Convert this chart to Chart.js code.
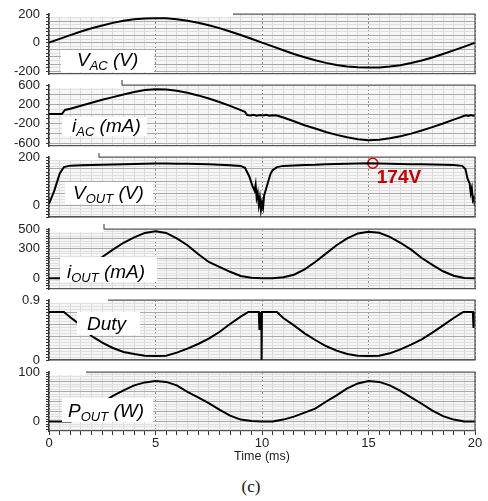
<!DOCTYPE html>
<html>
<head>
<meta charset="utf-8">
<script src="https://cdn.jsdelivr.net/npm/chart.js"></script>
<style>
  body { margin: 0; background: #fff; }
  #wrap { position: relative; width: 488px; height: 501px; overflow: hidden; }
  #wrap canvas { position: absolute; left: 0; }
  #caption { position: absolute; left: 151px; width: 200px; top: 477px; text-align: center;
             font: 17px "Liberation Serif", "Times New Roman", serif; color: #111; }
</style>
</head>
<body>
<div id="wrap"><div id="caption">(c)</div></div>
<script>
// time base (ms)
const timeMs = [0, 0.5, 1, 1.5, 2, 2.5, 3, 3.5, 4, 4.5, 5, 5.5, 6, 6.5, 7, 7.5, 8, 8.5, 9, 9.5,
  10, 10.5, 11, 11.5, 12, 12.5, 13, 13.5, 14, 14.5, 15, 15.5, 16, 16.5, 17, 17.5, 18, 18.5, 19, 19.5, 20];

// input voltage (V)
const vacValues = [0, 26, 52, 77, 100, 120, 138, 152, 163, 169, 171, 170, 164, 153, 139, 121, 101, 78, 53, 27,
  0, -27, -54, -80, -103, -124, -142, -157, -167, -173, -175, -174, -168, -158, -143, -125, -104, -80, -55, -28, 0];

// input current (mA)
const iacTime = [0, 0.5, 0.6, 0.75, 1, 1.5, 2, 2.5, 3, 3.5, 4, 4.5, 5, 5.5, 6, 6.5, 7, 7.5, 8, 8.5, 9,
  9.2, 9.3, 9.45, 9.6, 9.75, 9.9, 10.05, 10.2, 10.35, 10.5, 10.7, 11, 11.5, 12, 12.5, 13, 13.5, 14, 14.5,
  15, 15.5, 16, 16.5, 17, 17.5, 18, 18.5, 19, 19.3, 19.5, 19.6, 19.7, 19.8, 19.9, 20];
const iacValues = [0, 0, 0, 85, 110, 170, 235, 295, 350, 405, 455, 495, 510, 505, 480, 440, 385, 320, 250, 170, 80,
  45, -20, -30, -15, -35, -20, -30, -15, -35, -25, -30, -70, -150, -230, -300, -370, -430, -480, -520,
  -540, -530, -500, -460, -405, -340, -270, -195, -115, -70, -35, -25, -40, -20, -35, -25];

// output voltage (V)
const voutTime = [0, 0.25, 0.5, 0.7, 1, 1.5, 2, 2.5, 3, 3.5, 4, 4.5, 5, 5.5, 6, 6.5, 7, 7.5, 8, 8.5, 9,
  9.2, 9.4, 9.55, 9.65, 9.7, 9.75, 9.8, 9.85, 9.9, 9.95, 10, 10.05, 10.1, 10.2, 10.3, 10.4, 10.5, 10.7,
  11, 11.5, 12, 12.5, 13, 13.5, 14, 14.5, 15, 15.5, 16, 16.5, 17, 17.5, 18, 18.5, 19, 19.4,
  19.55, 19.65, 19.75, 19.8, 19.85, 19.9, 19.95, 20];
const voutValues = [5, 60, 130, 158, 164, 166, 167, 168, 169, 170, 171, 172, 173, 173, 172, 172, 171, 170, 168, 166, 163,
  155, 120, 80, 60, 85, 30, 50, 0, 30, -20, 10, -10, 40, 70, 100, 130, 145, 158,
  163, 165, 167, 168, 170, 171, 172, 173, 174, 173, 172, 171, 170, 170, 169, 168, 167, 163,
  150, 110, 90, 50, 70, 20, 30, -5];

// output current (mA)
const ioutValues = [0, 0, 0, 40, 125, 215, 290, 360, 415, 460, 478, 460, 405, 335, 245, 165, 115, 65, 22, 4,
  0, 0, 10, 35, 90, 165, 250, 335, 405, 455, 473, 462, 420, 360, 290, 205, 135, 70, 25, 3, 0];

// duty cycle
const dutyTime = [0, 0.5, 0.7, 1, 1.5, 2, 2.5, 3, 3.5, 4, 4.5, 5, 5.5, 6, 6.5, 7, 7.5, 8, 8.5, 9,
  9.36, 9.85, 9.88, 9.91, 9.94, 9.97, 9.98, 10, 10.7, 11, 11.5, 12, 12.5, 13, 13.5, 14, 14.5, 15, 15.5,
  16, 16.5, 17, 17.5, 18, 18.5, 19, 19.45, 19.9, 19.93, 19.96, 20];
const dutyValues = [0.72, 0.72, 0.72, 0.64, 0.52, 0.36, 0.26, 0.18, 0.12, 0.09, 0.065, 0.06, 0.065, 0.11, 0.17, 0.24, 0.32, 0.42, 0.54, 0.65,
  0.72, 0.72, 0.45, 0.72, 0.45, 0.72, 0, 0.72, 0.72, 0.63, 0.52, 0.4, 0.3, 0.21, 0.14, 0.09, 0.065, 0.06, 0.065,
  0.1, 0.16, 0.23, 0.31, 0.41, 0.52, 0.63, 0.72, 0.72, 0.48, 0.72, 0.5];

// output power (W)
const poutValues = [0, 0, 0, 5, 18, 38, 52, 63, 73, 79, 82, 80, 73, 60, 49, 37, 24, 12, 4, 1,
  0, 0, 4, 10, 18, 26, 40, 53, 67, 77, 82, 80, 73, 62, 49, 36, 22, 11, 4, 0, 0];

// annotated output peak
const peakTime = [15.2];
const peakValue = [174];

// axis labels
const timeTickLabels = [0, 5, 10, 15, 20];
const vacTickLabels = [200, 0, -200];
const iacTickLabels = [600, 200, -200, -600];
const voutTickLabels = [200, 0];
const ioutTickLabels = [500, 300, 0];
const dutyTickLabels = [0.9, 0];
const poutTickLabels = [100, 0];

Chart.defaults.font.family = '"Liberation Sans", Arial, sans-serif';
Chart.defaults.color = '#222';

const LABEL_FONT = 'italic 19px "Liberation Sans", Arial, sans-serif';
const SUB_FONT = 'italic 13px "Liberation Sans", Arial, sans-serif';
const PAD = 16;

function pairs(xs, ys) {
  return xs.map((x, i) => ({ x: x, y: ys[i] }));
}

function onStep(v, step) {
  const r = v / step;
  return Math.abs(r - Math.round(r)) < 1e-6;
}

// frame, label box and peak note; box/text coordinates are page-based, shifted by the canvas offset
const panelFrame = {
  id: 'panelFrame',
  beforeDraw(chart) {
    const a = chart.chartArea, ctx = chart.ctx;
    ctx.save();
    ctx.fillStyle = '#f6f6f6';
    ctx.fillRect(a.left, a.top, a.right - a.left, a.bottom - a.top);
    ctx.restore();
  },
  beforeDatasetsDraw(chart, args, o) {
    const a = chart.chartArea, ctx = chart.ctx;
    ctx.save();
    ctx.fillStyle = '#fff';
    ctx.fillRect(a.left + 1, a.top - 1, o.frameFrom - a.left - 1, 4);
    ctx.restore();
  },
  afterDatasetsDraw(chart, args, o) {
    const ctx = chart.ctx;
    const dy = o.offsetY;
    ctx.save();
    ctx.fillStyle = '#fff';
    ctx.fillRect(o.box[0], o.box[1] - dy, o.box[2], o.box[3]);
    ctx.fillStyle = '#000';
    ctx.textBaseline = 'alphabetic';
    let x = o.textX;
    o.parts.forEach(([txt, sub]) => {
      ctx.font = sub ? SUB_FONT : LABEL_FONT;
      ctx.fillText(txt, x, (sub ? o.base + 4 : o.base) - dy);
      x += ctx.measureText(txt).width;
    });
    if (o.peakLabel) {
      const pt = chart.getDatasetMeta(1).data[0];
      ctx.font = 'bold 19px "Liberation Sans", Arial, sans-serif';
      ctx.fillStyle = '#c00000';
      ctx.fillText(o.peakLabel, pt.x + 4, pt.y + 20);
    }
    ctx.restore();
  },
  afterDraw(chart, args, o) {
    const a = chart.chartArea, ctx = chart.ctx;
    ctx.save();
    ctx.strokeStyle = '#555';
    ctx.lineWidth = 1.2;
    ctx.beginPath();
    ctx.moveTo(o.frameFrom, a.top - o.stub);
    ctx.lineTo(o.frameFrom, a.top);
    ctx.lineTo(a.right, a.top);
    ctx.lineTo(a.right, a.bottom);
    ctx.stroke();
    ctx.restore();
  }
};

const panels = [
  { top: 14, bottom: 74, min: -220, max: 200, step: 25, major: 50, ticks: vacTickLabels,
    xs: timeMs, ys: vacValues, box: [61, 50, 93, 22], textX: 77, base: 66,
    parts: [['V', 0], ['AC', 1], [' (V)', 0]], frameFrom: 233, stub: 0 },
  { top: 85, bottom: 146, min: -660, max: 600, step: 100, major: 200, ticks: iacTickLabels,
    xs: iacTime, ys: iacValues, box: [62, 117, 85, 19], textX: 72, base: 132,
    parts: [['i', 0], ['AC', 1], [' (mA)', 0]], frameFrom: 122, stub: 5 },
  { top: 157, bottom: 217, min: -50, max: 200, step: 12.5, major: 50, ticks: voutTickLabels,
    xs: voutTime, ys: voutValues, box: [65, 182, 88, 22], textX: 73, base: 199,
    parts: [['V', 0], ['OUT', 1], [' (V)', 0]], frameFrom: 99, stub: 4, peak: true },
  { top: 229, bottom: 289, min: -110, max: 500, step: 25, major: 100, ticks: ioutTickLabels,
    xs: timeMs, ys: ioutValues, box: [60, 257, 97, 25], textX: 67, base: 278,
    parts: [['i', 0], ['OUT', 1], [' (mA)', 0]], frameFrom: 104, stub: 5 },
  { top: 300, bottom: 360, min: 0, max: 0.9, step: 0.045, major: 0.18, ticks: dutyTickLabels,
    xs: dutyTime, ys: dutyValues, box: [77, 312, 63, 23], textX: 87, base: 330,
    parts: [['Duty', 0]], frameFrom: 108, stub: 0 },
  { top: 372, bottom: 431, min: -19, max: 100, step: 5, major: 20, ticks: poutTickLabels,
    xs: timeMs, ys: poutValues, box: [62, 398, 91, 24], textX: 68, base: 417,
    parts: [['P', 0], ['OUT', 1], [' (W)', 0]], frameFrom: 86, stub: 0 }
];

const wrap = document.getElementById('wrap');

panels.forEach((p, i) => {
  const last = i === panels.length - 1;
  const top = p.top - PAD;
  const height = last ? 464 - top : p.bottom - p.top + 2 * PAD;
  const canvas = document.createElement('canvas');
  canvas.width = 488;
  canvas.height = height;
  canvas.style.top = top + 'px';
  wrap.appendChild(canvas);

  const datasets = [{
    data: pairs(p.xs, p.ys),
    borderColor: '#000',
    borderWidth: 2,
    pointRadius: 0,
    tension: 0
  }];
  if (p.peak) {
    datasets.push({
      data: pairs(peakTime, peakValue),
      showLine: false,
      pointRadius: 5,
      pointBorderWidth: 1.5,
      pointBorderColor: '#d00000',
      pointBackgroundColor: 'rgba(0,0,0,0)'
    });
  }

  new Chart(canvas, {
    type: 'line',
    data: { datasets: datasets },
    options: {
      responsive: false,
      animation: false,
      events: [],
      layout: { padding: { top: PAD, bottom: last ? 0 : PAD, left: 0, right: 13 } },
      plugins: {
        legend: { display: false },
        tooltip: { enabled: false },
        panelFrame: {
          offsetY: top,
          box: p.box, textX: p.textX, base: p.base, parts: p.parts,
          frameFrom: p.frameFrom, stub: p.stub,
          peakLabel: p.peak ? peakValue[0] + 'V' : null
        }
      },
      scales: {
        x: {
          type: 'linear',
          min: 0,
          max: 20,
          afterFit: (s) => { s.height = last ? 33 : 0; },
          ticks: {
            display: last,
            stepSize: 0.5,
            autoSkip: false,
            maxRotation: 0,
            padding: 1,
            font: { size: 13 },
            callback: (v) => timeTickLabels.includes(v) ? String(v) : ''
          },
          grid: {
            color: (c) => (c.tick && onStep(c.tick.value, 5)) ? '#8a8a8a' : '#dadada',
            lineWidth: 1,
            drawTicks: last,
            tickLength: 4,
            tickColor: '#333'
          },
          border: {
            color: '#555',
            width: 1.2,
            dash: (c) => (c.tick && onStep(c.tick.value, 5)) ? [2, 2] : []
          },
          title: {
            display: last,
            text: 'Time (ms)',
            font: { size: 12.5 },
            padding: 0
          }
        },
        y: {
          min: p.min,
          max: p.max,
          afterFit: (s) => { s.width = 49; },
          ticks: {
            stepSize: p.step,
            includeBounds: false,
            autoSkip: false,
            padding: 6,
            font: { size: 13 },
            callback: (v) => {
              const hit = p.ticks.find((t) => Math.abs(t - v) < 1e-6);
              return hit === undefined ? '' : String(hit);
            }
          },
          grid: {
            color: (c) => (c.tick && onStep(c.tick.value, p.major)) ? '#a9a9a9' : '#e0e0e0',
            lineWidth: 1,
            tickLength: 3,
            tickColor: '#333'
          },
          border: { color: '#333', width: 1.5 }
        }
      }
    },
    plugins: [panelFrame]
  });
});
</script>
</body>
</html>
